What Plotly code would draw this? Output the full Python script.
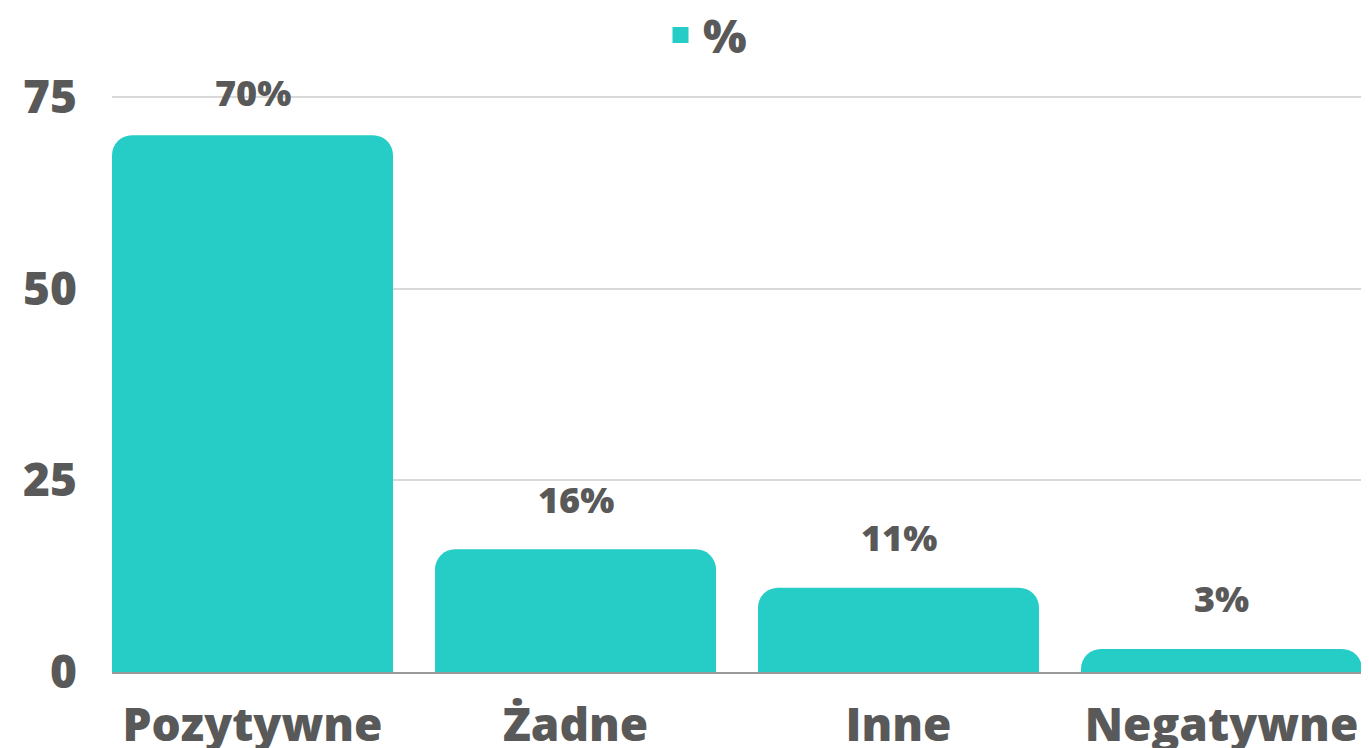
import plotly.graph_objects as go

categories = ["Pozytywne", "Żadne", "Inne", "Negatywne"]
values = [70, 16, 11, 3]
labels = ["70%", "16%", "11%", "3%"]
series_name = "%"
y_ticks = [0, 25, 50, 75]

BAR = "#26CDC6"
TXT = "#595959"
FONT = "Open Sans"

# page body has an 8px margin, so figure is offset by (8, 8)
W, H = 1361, 740
ML, MR, MT, MB = 104, 7, 85, 76
YMAX = 75.5
LABEL_CAP = 69.1  # labels of tall bars are kept inside the chart top

fig = go.Figure()
fig.add_trace(go.Bar(
    x=categories, y=values, marker=dict(color=BAR, cornerradius=20, line=dict(width=0)),
    showlegend=False, hoverinfo="skip",
))
fig.add_trace(go.Scatter(
    x=[None], y=[None], mode="markers", name=series_name,
    marker=dict(symbol="square", size=17, color=BAR),
))

for c, v, t in zip(categories, values, labels):
    fig.add_annotation(x=c, y=min(v, LABEL_CAP), text=t, showarrow=False, yanchor="middle",
                       yshift=50, font=dict(family=FONT, size=36, color=TXT, weight=800))

fig.update_layout(
    width=W, height=H,
    margin=dict(l=ML, r=MR, t=MT, b=MB, autoexpand=False),
    paper_bgcolor="white", plot_bgcolor="white",
    bargap=0.13,
    font=dict(family=FONT, color=TXT, weight=800),
    legend=dict(orientation="h", x=(650 - ML) / (W - ML - MR), xanchor="left",
                y=1 + (MT - 27) / (H - MT - MB), yanchor="middle", itemwidth=35,
                font=dict(family=FONT, size=46, color=TXT, weight=800),
                bgcolor="rgba(0,0,0,0)"),
    xaxis=dict(range=[-0.435, 3.435], showgrid=False, showline=True, linecolor="#999999",
               linewidth=2, tickfont=dict(family=FONT, size=46, color=TXT, weight=800),
               ticks="", ticklabelstandoff=12, fixedrange=True, automargin=False),
    yaxis=dict(range=[0, YMAX], tickvals=y_ticks, showgrid=True, gridcolor="#D9D9D9",
               gridwidth=2, zeroline=False, showline=False,
               tickfont=dict(family=FONT, size=46, color=TXT, weight=800),
               ticks="", ticklabelstandoff=34, fixedrange=True, automargin=False),
)

fig.write_html("out.html")
